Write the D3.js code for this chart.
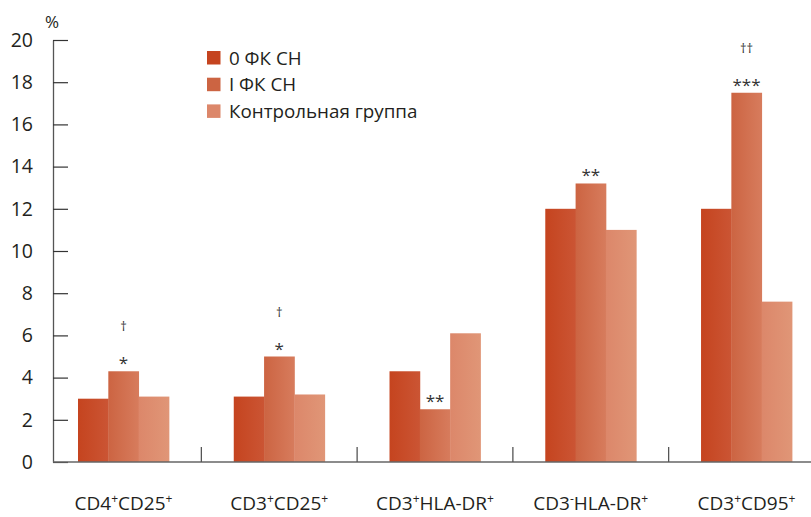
<!DOCTYPE html>
<html>
<head>
<meta charset="utf-8">
<script src="https://cdn.jsdelivr.net/npm/d3@7"></script>
<style>
  html, body { margin: 0; padding: 0; background: #fff; }
  svg { display: block; font-family: "Open Sans", "Noto Sans", sans-serif; }
</style>
</head>
<body>
<svg id="chart" width="811" height="517"></svg>
<script>
// Categories; "^x" marks a superscript character
const categories = ["CD4^+CD25^+", "CD3^+CD25^+", "CD3^+HLA-DR^+", "CD3^-HLA-DR^+", "CD3^+CD95^+"];
const seriesNames = ["0 ФК СН", "I ФК СН", "Контрольная группа"];
const fc0 = [3.0, 3.1, 4.3, 12.0, 12.0];
const fc1 = [4.3, 5.0, 2.5, 13.2, 17.5];
const control = [3.1, 3.2, 6.1, 11.0, 7.6];
// significance marks placed above the "I ФК СН" bars
const starMarks = ["*", "*", "**", "**", "***"];
const daggerMarks = ["†", "†", "", "", "††"];
const yTicks = [0, 2, 4, 6, 8, 10, 12, 14, 16, 18, 20];

const colors = [["#c5441f", "#cb5534"], ["#cc6442", "#d77c5d"], ["#dc876a", "#e09677"]];
const seriesValues = [fc0, fc1, control];

const svg = d3.select("#chart");
const W = 811;

const y = d3.scaleLinear().domain([0, 20]).range([462, 40]);
const x = d3.scaleBand().domain(categories).range([45.6, 824.4])
  .paddingInner(0.416).paddingOuter(0.208);
const xs = d3.scaleBand().domain(d3.range(seriesNames.length)).range([0, x.bandwidth()]);

// gradients for bars
const defs = svg.append("defs");
colors.forEach((c, i) => {
  const g = defs.append("linearGradient").attr("id", "grad" + i)
    .attr("x1", "0%").attr("x2", "100%").attr("y1", "0%").attr("y2", "0%");
  g.append("stop").attr("offset", "0%").attr("stop-color", c[0]);
  g.append("stop").attr("offset", "100%").attr("stop-color", c[1]);
});

// bars
const groups = svg.append("g").selectAll("g").data(categories).join("g")
  .attr("transform", d => `translate(${x(d)},0)`);
groups.selectAll("rect")
  .data((d, gi) => seriesValues.map((vals, si) => ({ si, v: vals[gi] })))
  .join("rect")
  .attr("x", d => xs(d.si))
  .attr("width", xs.bandwidth() + 0.4)
  .attr("y", d => y(d.v))
  .attr("height", d => y(0) - y(d.v))
  .attr("fill", d => `url(#grad${d.si})`);

// y axis
const yAxis = d3.axisLeft(y).tickValues(yTicks).tickSizeInner(-15).tickSizeOuter(0).tickPadding(20);
const ya = svg.append("g").attr("transform", "translate(53,0)").call(yAxis);
ya.select(".domain").attr("stroke", "#555").attr("stroke-width", 1.3);
ya.selectAll(".tick line").attr("stroke", "#333").attr("stroke-width", 1.2);
ya.selectAll(".tick text").attr("fill", "#231f20").attr("font-size", 19.5)
  .attr("font-family", "'Open Sans', sans-serif");

// x axis baseline and separators between groups
svg.append("line").attr("x1", 53).attr("x2", W).attr("y1", y(0)).attr("y2", y(0))
  .attr("stroke", "#666").attr("stroke-width", 1.5);
const seps = categories.slice(0, -1).map(d => x(d) + x.bandwidth() + x.step() * x.paddingInner() / 2);
svg.append("g").selectAll("line").data(seps).join("line")
  .attr("x1", d => d).attr("x2", d => d)
  .attr("y1", y(0)).attr("y2", y(0) - 15)
  .attr("stroke", "#555").attr("stroke-width", 1.3);

// category labels with superscripts
const labels = svg.append("g").selectAll("text").data(categories).join("text")
  .attr("x", d => x(d) + x.bandwidth() / 2)
  .attr("y", 510)
  .attr("text-anchor", "middle")
  .attr("font-size", 19)
  .attr("fill", "#231f20");
labels.each(function (d) {
  const t = d3.select(this);
  const parts = d.split(/(\^.)/).filter(s => s.length);
  parts.forEach(p => {
    if (p[0] === "^") {
      t.append("tspan").text(p[1])
        .attr("font-size", 12).attr("baseline-shift", "55%");
    } else {
      t.append("tspan").text(p);
    }
  });
});

// "%" unit label
svg.append("text").attr("x", 52).attr("y", 28).attr("text-anchor", "middle")
  .attr("font-size", 17).attr("fill", "#231f20").text("%");

// significance marks
const cx = d => x(d) + xs(1) + xs.bandwidth() / 2;
svg.append("g").selectAll("text").data(categories).join("text")
  .attr("x", cx)
  .attr("y", (d, i) => y(fc1[i]) - 2)
  .attr("text-anchor", "middle").attr("font-size", 17).attr("fill", "#333")
  .text((d, i) => starMarks[i]);
svg.append("g").selectAll("text").data(categories).join("text")
  .attr("x", cx)
  .attr("y", (d, i) => y(fc1[i]) - 40)
  .attr("text-anchor", "middle").attr("font-size", 13).attr("fill", "#333")
  .text((d, i) => daggerMarks[i]);

// legend
const legend = svg.append("g").selectAll("g").data(seriesNames).join("g")
  .attr("transform", (d, i) => `translate(207,${51 + i * 26.7})`);
legend.append("rect").attr("width", 13.5).attr("height", 13.5)
  .attr("fill", (d, i) => colors[i][0]);
legend.append("text").attr("x", 22).attr("y", 13.5).attr("font-size", 18.8)
  .attr("fill", "#231f20").text(d => d);
</script>
</body>
</html>
